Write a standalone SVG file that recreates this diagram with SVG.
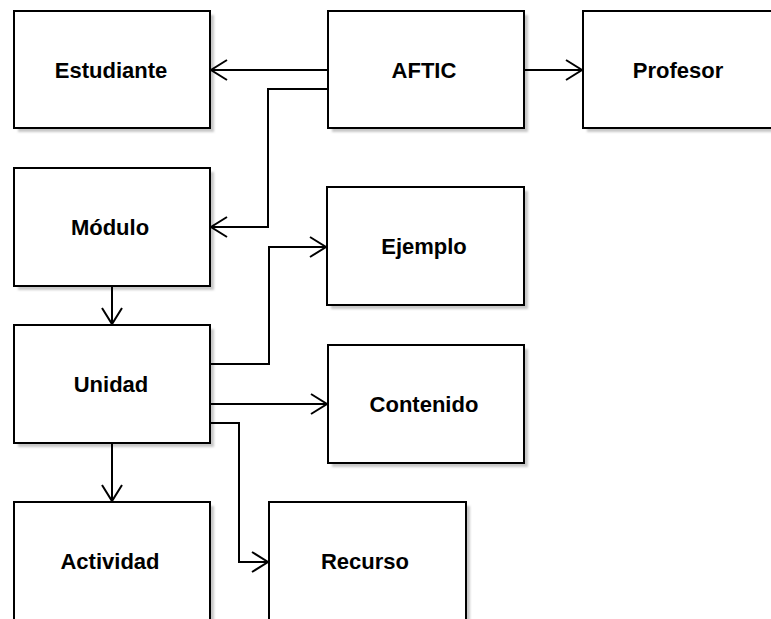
<svg xmlns="http://www.w3.org/2000/svg" width="771" height="619" viewBox="0 0 771 619">
<style>
.box{fill:#fff;stroke:#000;stroke-width:2}
.sh{fill:#c8c8c8;filter:url(#blur)}
.lbl{font-family:"Liberation Sans",Arial,sans-serif;font-weight:bold;font-size:22px;text-anchor:middle;fill:#000}
.edge{fill:none;stroke:#000;stroke-width:2}
</style>
<defs>
<filter id="blur" x="-10%" y="-10%" width="120%" height="120%"><feGaussianBlur stdDeviation="1"/></filter>
<marker id="open" viewBox="0 0 20 24" refX="18" refY="12" markerWidth="20" markerHeight="24" markerUnits="userSpaceOnUse" orient="auto">
<path d="M2 2 L18 12 L2 22" fill="none" stroke="#000" stroke-width="2"/>
</marker>
</defs>
<rect width="771" height="619" fill="#fff"/>
<g id="Estudiante"><rect class="sh" x="18" y="15" width="196" height="117"/><rect class="box" x="14" y="11" width="196" height="117"/><text class="lbl" x="111" y="78">Estudiante</text></g>
<g id="AFTIC"><rect class="sh" x="332" y="15" width="196" height="117"/><rect class="box" x="328" y="11" width="196" height="117"/><text class="lbl" x="424" y="78">AFTIC</text></g>
<g id="Profesor"><rect class="sh" x="587" y="15" width="196" height="117"/><rect class="box" x="583" y="11" width="196" height="117"/><text class="lbl" x="678" y="78">Profesor</text></g>
<g id="Modulo"><rect class="sh" x="18" y="172" width="196" height="118"/><rect class="box" x="14" y="168" width="196" height="118"/><text class="lbl" x="110" y="235">Módulo</text></g>
<g id="Ejemplo"><rect class="sh" x="331" y="191" width="197" height="118"/><rect class="box" x="327" y="187" width="197" height="118"/><text class="lbl" x="424" y="254">Ejemplo</text></g>
<g id="Unidad"><rect class="sh" x="18" y="329" width="196" height="118"/><rect class="box" x="14" y="325" width="196" height="118"/><text class="lbl" x="111" y="392">Unidad</text></g>
<g id="Contenido"><rect class="sh" x="332" y="349" width="196" height="118"/><rect class="box" x="328" y="345" width="196" height="118"/><text class="lbl" x="424" y="412">Contenido</text></g>
<g id="Actividad"><rect class="sh" x="18" y="506" width="196" height="118"/><rect class="box" x="14" y="502" width="196" height="118"/><text class="lbl" x="110" y="569">Actividad</text></g>
<g id="Recurso"><rect class="sh" x="273" y="506" width="197" height="118"/><rect class="box" x="269" y="502" width="197" height="118"/><text class="lbl" x="365" y="569">Recurso</text></g>
<g id="connectors">
<path class="edge" d="M328 70 H211" marker-end="url(#open)"/>
<path class="edge" d="M524 70 H582" marker-end="url(#open)"/>
<path class="edge" d="M328 89 H268 V227 H211" marker-end="url(#open)"/>
<path class="edge" d="M112 286 V324" marker-end="url(#open)"/>
<path class="edge" d="M210 364 H269 V247 H326" marker-end="url(#open)"/>
<path class="edge" d="M210 404 H327" marker-end="url(#open)"/>
<path class="edge" d="M210 423 H239 V562 H268" marker-end="url(#open)"/>
<path class="edge" d="M112 443 V501" marker-end="url(#open)"/>
</g>
</svg>
